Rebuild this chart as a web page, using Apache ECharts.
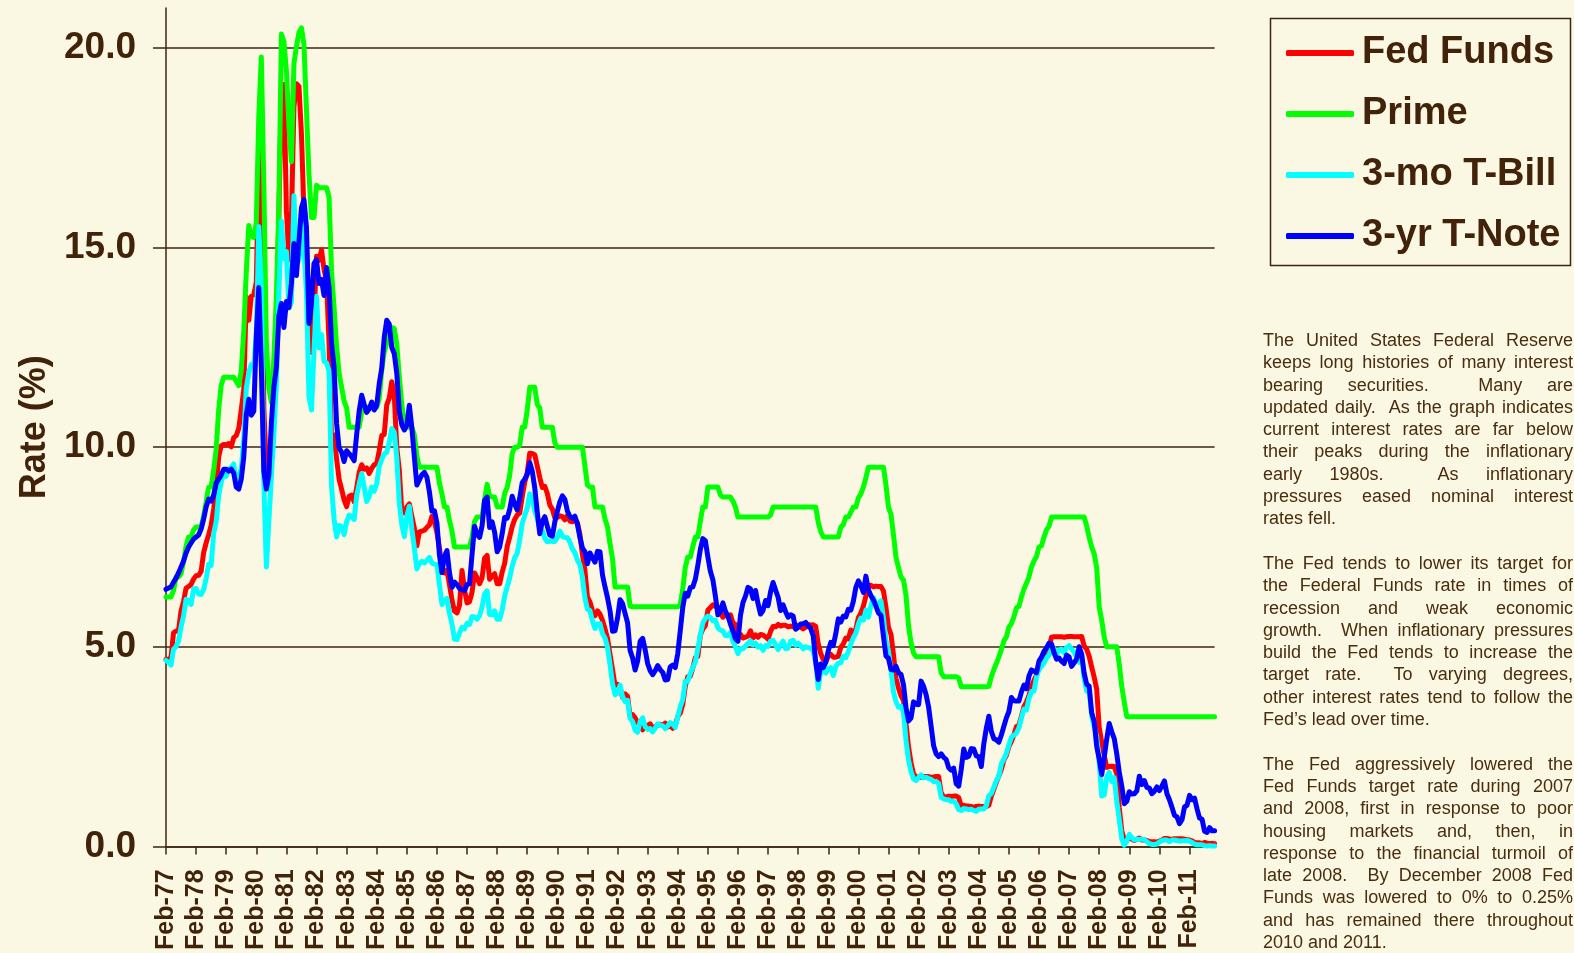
<!DOCTYPE html>
<html>
<head>
<meta charset="utf-8">
<script src="https://cdn.jsdelivr.net/npm/echarts@6/dist/echarts.min.js"></script>
<style>
  html, body { margin: 0; padding: 0; background: #FAF8E2; }
  #chart { position: absolute; left: 0; top: 0; width: 1574px; height: 953px; }
  #notes { position: absolute; left: 1263px; top: 329px; width: 310px;
           font-family: 'Liberation Sans', Arial, sans-serif; font-size: 18px;
           line-height: 22.3px; color: #4A2C0E; }
  #notes div { text-align: justify; text-align-last: justify; white-space: nowrap; }
  #notes div.last { text-align: left; text-align-last: left; }
  #notes div.gap { height: 22.3px; }
</style>
</head>
<body>
<div id="chart"></div>
<div id="notes">
  <div>The United States Federal Reserve</div>
  <div>keeps long histories of many interest</div>
  <div>bearing securities.&nbsp; Many are</div>
  <div>updated daily.&nbsp; As the graph indicates</div>
  <div>current interest rates are far below</div>
  <div>their peaks during the inflationary</div>
  <div>early 1980s.&nbsp; As inflationary</div>
  <div>pressures eased nominal interest</div>
  <div class="last">rates fell.</div>
  <div class="gap"></div>
  <div>The Fed tends to lower its target for</div>
  <div>the Federal Funds rate in times of</div>
  <div>recession and weak economic</div>
  <div>growth.&nbsp; When inflationary pressures</div>
  <div>build the Fed tends to increase the</div>
  <div>target rate.&nbsp; To varying degrees,</div>
  <div>other interest rates tend to follow the</div>
  <div class="last">Fed’s lead over time.</div>
  <div class="gap"></div>
  <div>The Fed aggressively lowered the</div>
  <div>Fed Funds target rate during 2007</div>
  <div>and 2008, first in response to poor</div>
  <div>housing markets and, then, in</div>
  <div>response to the financial turmoil of</div>
  <div>late 2008.&nbsp; By December 2008 Fed</div>
  <div>Funds was lowered to 0% to 0.25%</div>
  <div>and has remained there throughout</div>
  <div class="last">2010 and 2011.</div>
</div>
<script>
// Monthly series, Feb-1977 through Dec-2011 (one row per year; 1977 starts in Feb)
const seriesNames = ['Fed Funds', 'Prime', '3-mo T-Bill', '3-yr T-Note'];

const fedFunds = [
  4.68,4.69,4.73,5.35,5.39,5.42,5.90,6.14,6.47,6.51,6.56,
  6.70,6.78,6.79,6.89,7.36,7.60,7.81,8.04,8.45,8.96,9.76,10.03,
  10.07,10.06,10.09,10.01,10.24,10.29,10.47,10.94,11.43,13.77,13.18,13.78,
  13.82,14.13,17.19,17.61,10.98,9.47,9.03,9.61,10.87,12.81,15.85,18.90,
  19.08,15.93,14.70,15.72,18.52,19.10,19.04,17.82,15.87,15.08,13.31,12.37,
  13.22,14.78,14.68,14.94,14.45,14.15,12.59,10.12,10.31,9.71,9.20,8.95,
  8.68,8.51,8.77,8.80,8.63,8.98,9.37,9.56,9.45,9.48,9.34,9.47,
  9.56,9.59,9.91,10.29,10.32,11.06,11.23,11.64,11.30,9.99,9.43,8.38,
  8.35,8.50,8.58,8.27,7.97,7.53,7.88,7.90,7.92,7.99,8.05,8.27,
  8.14,7.86,7.48,6.99,6.85,6.92,6.56,6.17,5.89,5.85,6.04,6.91,
  6.43,6.10,6.13,6.37,6.85,6.73,6.58,6.73,7.22,7.29,6.69,6.77,
  6.83,6.58,6.58,6.87,7.09,7.51,7.75,8.01,8.19,8.30,8.35,8.76,
  9.12,9.36,9.85,9.84,9.81,9.53,9.24,8.99,9.02,8.84,8.55,8.45,
  8.23,8.24,8.28,8.26,8.18,8.29,8.15,8.13,8.20,8.11,7.81,7.31,
  6.91,6.25,6.12,5.91,5.78,5.90,5.82,5.66,5.45,5.21,4.81,4.43,
  4.03,4.06,3.98,3.73,3.82,3.76,3.25,3.30,3.22,3.10,3.09,2.92,
  3.02,3.03,3.07,2.96,3.00,3.04,3.06,3.03,3.09,2.99,3.02,2.96,
  3.05,3.25,3.34,3.56,4.01,4.25,4.26,4.47,4.73,4.76,5.29,5.45,
  5.53,5.92,5.98,6.05,6.01,6.00,5.85,5.74,5.80,5.76,5.80,5.60,
  5.56,5.22,5.31,5.22,5.24,5.27,5.40,5.22,5.30,5.24,5.31,5.29,
  5.25,5.19,5.39,5.51,5.50,5.56,5.52,5.54,5.54,5.50,5.52,5.50,
  5.56,5.51,5.49,5.45,5.49,5.56,5.54,5.55,5.51,5.07,4.83,4.68,
  4.63,4.76,4.81,4.74,4.74,4.76,4.99,5.07,5.22,5.20,5.42,5.30,
  5.45,5.73,5.85,6.02,6.27,6.53,6.54,6.50,6.52,6.51,6.51,6.40,
  5.98,5.49,5.31,4.80,4.21,3.97,3.77,3.65,3.07,2.49,2.09,1.82,
  1.73,1.74,1.73,1.75,1.75,1.75,1.73,1.74,1.75,1.75,1.34,1.24,
  1.24,1.26,1.25,1.26,1.26,1.22,1.01,1.03,1.01,1.01,1.00,0.98,
  1.00,1.01,1.00,1.00,1.00,1.03,1.26,1.43,1.61,1.76,1.93,2.16,
  2.28,2.50,2.63,2.79,3.00,3.04,3.26,3.50,3.62,3.78,4.00,4.16,
  4.29,4.49,4.59,4.79,4.94,4.99,5.24,5.25,5.25,5.25,5.25,5.24,
  5.25,5.26,5.26,5.25,5.25,5.25,5.26,5.02,4.94,4.76,4.49,4.24,
  3.94,2.98,2.61,2.28,1.98,2.00,2.01,2.00,1.81,0.97,0.39,0.16,
  0.15,0.22,0.18,0.15,0.18,0.21,0.16,0.16,0.15,0.12,0.12,0.12,
  0.11,0.13,0.16,0.20,0.20,0.18,0.18,0.19,0.19,0.19,0.19,0.18,
  0.17,0.16,0.14,0.10,0.09,0.09,0.07,0.10,0.08,0.07,0.08,0.07
];

const prime = [
  6.25,6.25,6.25,6.41,6.75,6.75,6.83,7.13,7.52,7.75,7.75,
  7.93,8.00,8.00,8.00,8.27,8.63,9.00,9.01,9.41,9.94,10.94,11.55,
  11.75,11.75,11.75,11.75,11.75,11.65,11.54,11.91,12.90,14.39,15.55,15.30,
  15.25,15.63,18.31,19.77,16.57,12.63,11.48,11.12,12.23,13.79,16.06,20.35,
  20.16,19.43,18.05,17.15,19.61,20.03,20.39,20.50,20.08,18.45,16.84,15.75,
  15.75,16.56,16.50,16.50,16.50,16.50,16.26,14.39,13.50,12.52,11.85,11.50,
  11.16,10.98,10.50,10.50,10.50,10.50,10.50,10.89,11.00,11.00,11.00,11.00,
  11.00,11.00,11.21,11.93,12.39,12.60,13.00,13.00,12.97,12.58,11.77,11.06,
  10.61,10.50,10.50,10.50,10.31,9.78,9.50,9.50,9.50,9.50,9.50,9.50,
  9.50,9.50,9.10,8.83,8.50,8.50,8.16,7.90,7.50,7.50,7.50,7.50,
  7.50,7.50,7.50,7.75,8.14,8.25,8.25,8.25,8.70,9.07,8.78,8.75,
  8.75,8.51,8.50,8.50,8.84,9.00,9.29,9.84,10.00,10.00,10.05,10.50,
  10.50,10.93,11.50,11.50,11.50,11.07,10.98,10.50,10.50,10.50,10.50,10.50,
  10.11,10.00,10.00,10.00,10.00,10.00,10.00,10.00,10.00,10.00,10.00,10.00,
  9.52,9.05,9.00,9.00,8.50,8.50,8.50,8.50,8.20,8.00,7.58,7.21,
  6.50,6.50,6.50,6.50,6.50,6.50,6.02,6.00,6.00,6.00,6.00,6.00,
  6.00,6.00,6.00,6.00,6.00,6.00,6.00,6.00,6.00,6.00,6.00,6.00,
  6.00,6.00,6.06,6.45,6.99,7.25,7.25,7.51,7.75,7.75,8.15,8.50,
  8.50,9.00,9.00,9.00,9.00,9.00,8.80,8.75,8.75,8.75,8.75,8.65,
  8.50,8.25,8.25,8.25,8.25,8.25,8.25,8.25,8.25,8.25,8.25,8.25,
  8.25,8.25,8.30,8.50,8.50,8.50,8.50,8.50,8.50,8.50,8.50,8.50,
  8.50,8.50,8.50,8.50,8.50,8.50,8.50,8.50,8.50,8.12,7.89,7.75,
  7.75,7.75,7.75,7.75,7.75,7.75,8.00,8.06,8.25,8.25,8.37,8.50,
  8.50,8.73,8.83,9.00,9.24,9.50,9.50,9.50,9.50,9.50,9.50,9.50,
  9.05,8.50,8.32,7.80,7.24,6.98,6.75,6.67,6.28,5.53,5.10,4.84,
  4.75,4.75,4.75,4.75,4.75,4.75,4.75,4.75,4.75,4.75,4.35,4.25,
  4.25,4.25,4.25,4.25,4.25,4.22,4.00,4.00,4.00,4.00,4.00,4.00,
  4.00,4.00,4.00,4.00,4.00,4.01,4.25,4.43,4.58,4.75,4.93,5.15,
  5.25,5.49,5.58,5.75,5.98,6.01,6.25,6.44,6.59,6.75,7.00,7.15,
  7.26,7.50,7.53,7.75,7.93,8.02,8.25,8.25,8.25,8.25,8.25,8.25,
  8.25,8.25,8.25,8.25,8.25,8.25,8.25,8.25,8.03,7.74,7.50,7.33,
  6.98,6.00,5.66,5.24,5.00,5.00,5.00,5.00,5.00,4.56,4.00,3.61,
  3.25,3.25,3.25,3.25,3.25,3.25,3.25,3.25,3.25,3.25,3.25,3.25,
  3.25,3.25,3.25,3.25,3.25,3.25,3.25,3.25,3.25,3.25,3.25,3.25,
  3.25,3.25,3.25,3.25,3.25,3.25,3.25,3.25,3.25,3.25,3.25,3.25
];

const tBill3mo = [
  4.66,4.61,4.54,4.94,5.00,5.15,5.50,5.77,6.19,6.16,6.06,
  6.45,6.46,6.32,6.31,6.43,6.71,7.07,7.04,7.84,8.13,8.79,9.12,
  9.35,9.27,9.46,9.49,9.58,9.05,9.26,9.45,10.18,11.47,11.87,12.07,
  12.04,12.81,15.53,14.00,9.15,7.00,8.13,9.26,10.32,11.58,13.89,15.66,
  14.72,14.90,13.48,13.63,16.30,14.56,14.70,15.61,14.95,13.87,11.27,10.93,
  12.41,13.78,12.49,12.82,12.15,12.11,11.91,9.01,8.20,7.75,8.04,8.01,
  7.81,8.13,8.30,8.25,8.19,8.79,9.08,9.34,9.00,8.64,8.76,9.00,
  8.90,9.09,9.52,9.69,9.83,9.87,10.12,10.47,10.37,9.74,8.61,8.06,
  7.76,8.27,8.52,7.95,7.48,6.95,7.08,7.14,7.10,7.16,7.24,7.10,
  7.07,7.06,6.56,6.06,6.15,6.21,5.84,5.57,5.19,5.18,5.35,5.49,
  5.45,5.59,5.56,5.76,5.75,5.69,5.78,6.00,6.32,6.40,5.81,5.80,
  5.90,5.69,5.69,5.92,6.27,6.50,6.73,7.02,7.23,7.34,7.68,8.09,
  8.29,8.48,8.83,8.70,8.40,8.22,7.92,7.91,7.72,7.63,7.65,7.64,
  7.64,7.74,7.90,7.77,7.74,7.73,7.62,7.45,7.36,7.17,7.06,6.74,
  6.22,5.94,5.91,5.65,5.46,5.57,5.58,5.33,5.22,4.99,4.56,4.07,
  3.80,3.84,4.04,3.75,3.63,3.66,3.21,3.13,2.91,2.86,3.13,3.22,
  3.00,2.93,2.95,2.87,2.96,3.07,3.04,3.02,2.95,3.02,3.10,3.06,
  2.98,3.25,3.50,3.68,4.14,4.14,4.33,4.48,4.62,4.95,5.29,5.60,
  5.71,5.77,5.73,5.65,5.67,5.47,5.42,5.40,5.28,5.28,5.36,5.14,
  5.00,4.83,4.96,4.95,5.02,5.09,5.15,5.05,5.09,4.99,5.03,4.91,
  5.03,5.01,5.14,5.16,5.05,4.93,5.05,5.14,4.95,4.97,5.14,5.16,
  5.04,5.09,5.03,4.95,5.00,4.98,4.96,4.90,4.61,3.96,4.41,4.39,
  4.34,4.45,4.48,4.28,4.51,4.59,4.60,4.76,4.73,4.88,5.07,5.23,
  5.34,5.57,5.72,5.67,5.92,5.74,6.03,6.23,6.07,6.07,6.15,5.73,
  5.15,4.88,4.42,3.87,3.62,3.49,3.51,3.36,2.64,2.16,1.87,1.69,
  1.65,1.73,1.79,1.72,1.73,1.70,1.68,1.62,1.63,1.58,1.23,1.19,
  1.17,1.17,1.13,1.13,1.07,0.92,0.90,0.95,0.94,0.92,0.93,0.90,
  0.88,0.93,0.94,0.94,1.02,1.27,1.33,1.48,1.65,1.76,2.07,2.19,
  2.33,2.54,2.74,2.78,2.84,2.97,3.22,3.44,3.42,3.71,3.88,3.89,
  4.24,4.43,4.51,4.60,4.72,4.79,4.95,4.96,4.81,4.92,4.94,4.85,
  4.98,5.03,4.94,4.87,4.73,4.61,4.82,4.20,3.89,3.90,3.27,3.00,
  2.75,2.12,1.26,1.29,1.73,1.86,1.63,1.72,1.13,0.67,0.19,0.03,
  0.13,0.30,0.22,0.16,0.18,0.18,0.18,0.17,0.12,0.07,0.05,0.05,
  0.06,0.11,0.15,0.16,0.16,0.12,0.16,0.16,0.15,0.13,0.14,0.14,
  0.15,0.13,0.10,0.06,0.04,0.04,0.04,0.02,0.01,0.02,0.01,0.01
];

const tNote3yr = [
  6.44,6.47,6.50,6.62,6.72,6.85,7.00,7.15,7.35,7.50,7.60,
  7.70,7.75,7.80,7.95,8.20,8.50,8.70,8.65,8.80,9.10,9.20,9.30,
  9.45,9.45,9.40,9.45,9.35,9.00,8.95,9.20,9.75,10.80,11.20,10.80,
  10.90,12.80,14.00,12.00,9.40,8.95,9.30,10.60,11.50,12.00,13.30,13.60,
  13.00,13.65,13.50,14.10,15.10,14.30,15.15,16.00,16.20,15.50,13.10,13.65,
  14.60,14.70,14.10,14.20,13.80,14.50,14.00,12.60,12.00,10.60,9.98,9.88,
  9.64,9.91,9.84,9.76,9.66,10.32,10.90,11.30,11.07,10.87,10.96,11.13,
  10.93,11.05,11.59,11.98,12.75,13.18,13.08,12.50,12.34,11.85,10.90,10.56,
  10.43,10.55,11.05,10.49,9.75,9.05,9.18,9.31,9.37,9.25,8.88,8.40,
  8.41,8.10,7.30,6.86,7.27,7.41,6.86,6.49,6.62,6.56,6.46,6.43,
  6.41,6.56,6.58,7.32,8.02,7.82,7.74,8.03,8.67,8.75,7.99,8.13,
  7.87,7.38,7.50,7.83,8.24,8.22,8.44,8.77,8.57,8.43,8.72,9.11,
  9.20,9.32,9.61,9.40,8.98,8.37,7.83,8.13,8.26,8.02,7.80,7.77,
  8.13,8.39,8.63,8.78,8.69,8.40,8.26,8.22,8.27,8.07,7.74,7.47,
  7.38,7.08,7.35,7.23,7.12,7.39,7.38,6.80,6.50,6.23,5.90,5.39,
  5.40,5.72,6.18,6.08,5.84,5.60,4.91,4.72,4.42,4.64,5.14,5.21,
  4.93,4.58,4.40,4.30,4.40,4.53,4.43,4.36,4.17,4.18,4.50,4.54,
  4.48,4.83,5.40,5.99,6.34,6.27,6.48,6.50,6.69,7.04,7.44,7.71,
  7.66,7.25,6.89,6.68,6.27,5.80,5.89,6.10,5.89,5.77,5.57,5.39,
  5.20,5.14,5.79,6.11,6.27,6.49,6.45,6.21,6.41,6.08,5.82,5.91,
  6.16,6.03,6.38,6.61,6.42,6.24,5.91,6.05,5.88,5.74,5.80,5.77,
  5.44,5.49,5.57,5.58,5.61,5.52,5.46,5.27,4.62,4.18,4.57,4.48,
  4.61,4.90,5.11,5.03,5.33,5.70,5.62,5.77,5.75,5.94,5.92,6.14,
  6.49,6.65,6.53,6.36,6.77,6.43,6.28,6.17,6.02,5.85,5.79,5.26,
  4.77,4.71,4.43,4.42,4.51,4.35,4.31,4.04,3.47,3.14,3.22,3.62,
  3.56,3.55,4.14,4.01,3.80,3.49,3.01,2.52,2.32,2.25,2.32,2.23,
  2.18,1.97,1.91,1.96,1.57,1.51,1.93,2.44,2.23,2.26,2.45,2.44,
  2.27,2.25,2.00,2.57,2.96,3.26,2.88,2.70,2.67,2.61,2.79,3.01,
  3.22,3.38,3.73,3.65,3.64,3.64,3.87,4.04,3.95,4.27,4.42,4.39,
  4.35,4.64,4.74,4.89,4.97,5.09,5.07,4.85,4.69,4.72,4.64,4.58,
  4.79,4.75,4.51,4.60,4.69,5.00,4.82,4.34,4.06,4.01,3.35,3.13,
  2.51,2.19,1.80,2.23,2.69,3.08,2.87,2.70,2.32,1.86,1.51,1.07,
  1.13,1.37,1.31,1.32,1.39,1.76,1.55,1.65,1.48,1.46,1.32,1.38,
  1.49,1.40,1.51,1.64,1.32,1.17,0.98,0.78,0.74,0.57,0.67,0.99,
  1.03,1.28,1.17,1.21,0.94,0.71,0.68,0.38,0.35,0.47,0.39,0.39
];

const yTickValues = [0, 5, 10, 15, 20];
const monthNames = ['Jan','Feb','Mar','Apr','May','Jun','Jul','Aug','Sep','Oct','Nov','Dec'];
const startYear = 1977, startMonth = 1; // Feb-77

const categories = fedFunds.map((_, i) => {
  const m = (startMonth + i) % 12;
  const y = startYear + Math.floor((startMonth + i) / 12);
  return monthNames[m] + '-' + String(y % 100).padStart(2, '0');
});

const TX = '#42230A';
const AX = '#3E2410';
const FONT = "'Liberation Sans', Arial, sans-serif";
const colors = ['#FF0000', '#00FF00', '#00FFFF', '#0000FF'];
const dataSets = [fedFunds, prime, tBill3mo, tNote3yr];

const chart = echarts.init(document.getElementById('chart'), null, { renderer: 'canvas' });
const everyYear = (i) => i % 12 === 0;

chart.setOption({
  animation: false,
  backgroundColor: '#FAF8E2',
  textStyle: { fontFamily: FONT },
  grid: { left: 166, right: 359.4, top: 8, bottom: 103, containLabel: false },
  xAxis: {
    type: 'category',
    data: categories,
    boundaryGap: false,
    axisLine: { show: true, lineStyle: { color: AX, width: 1.5 } },
    axisTick: { show: true, interval: everyYear, length: 8, lineStyle: { color: AX, width: 1.5 } },
    axisLabel: { interval: everyYear, rotate: 90, margin: 23, fontSize: 25, fontWeight: 'bold',
                 color: TX, fontFamily: FONT },
    splitLine: { show: false }
  },
  yAxis: {
    type: 'value', min: 0, max: 21, interval: 5,
    name: 'Rate (%)', nameLocation: 'middle', nameGap: 112,
    nameTextStyle: { fontSize: 36, fontWeight: 'bold', color: TX, fontFamily: FONT },
    axisLine: { show: true, lineStyle: { color: AX, width: 1.5 } },
    axisTick: { show: true, length: 13, customValues: yTickValues, lineStyle: { color: AX, width: 1.5 } },
    axisLabel: { customValues: yTickValues, formatter: (v) => Number(v).toFixed(1),
                 fontSize: 37, fontWeight: 'bold', color: TX, margin: 30, fontFamily: FONT },
    splitLine: { show: true, lineStyle: { color: AX, width: 1.5 } }
  },
  legend: {
    orient: 'vertical', left: 1281, top: 28, itemGap: 21,
    itemWidth: 68, itemHeight: 6, icon: 'roundRect',
    textStyle: { fontSize: 38, fontWeight: 'bold', color: TX, lineHeight: 40,
                 padding: [0, 0, 0, 3], fontFamily: FONT },
    data: seriesNames
  },
  graphic: [{
    type: 'rect', left: 1268, top: 16, silent: true,
    shape: { width: 300, height: 247 },
    style: { fill: 'none', stroke: AX, lineWidth: 1.5 }
  }],
  series: seriesNames.map((name, k) => ({
    name: name,
    type: 'line',
    data: dataSets[k],
    symbol: 'none',
    showSymbol: false,
    color: colors[k],
    lineStyle: { color: colors[k], width: 5, cap: 'round', join: 'round' },
    emphasis: { disabled: true },
    z: 2 + k
  }))
});
</script>
</body>
</html>
